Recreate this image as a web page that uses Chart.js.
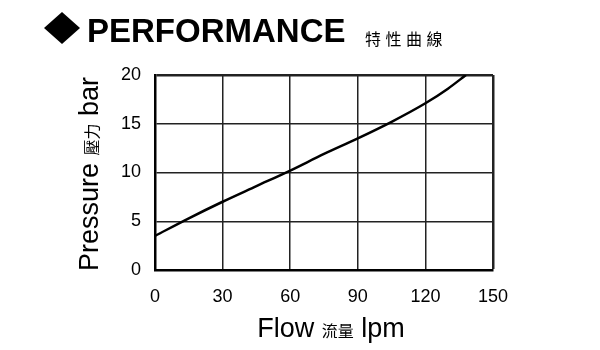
<!DOCTYPE html>
<html>
<head>
<meta charset="utf-8">
<script src="https://cdn.jsdelivr.net/npm/chart.js@4.4.1/dist/chart.umd.min.js"></script>
<style>
    html, body { margin: 0; padding: 0; background: #fff; }
    #wrap { width: 600px; height: 350px; position: relative; }
</style>
</head>
<body>
<div id="wrap"><canvas id="perfChart" width="600" height="350"></canvas></div>
<script>
// 讀圖估計的資料
const flowLpm = [0, 15, 30, 45, 60, 75, 90, 105, 120, 130, 138];
const pressureBar = [3.5, 5.3, 7.0, 8.6, 10.2, 11.9, 13.5, 15.2, 17.1, 18.6, 20];
const xTicks = [0, 30, 60, 90, 120, 150];
const yTicks = [0, 5, 10, 15, 20];

const latin = '"Liberation Sans", Arial, sans-serif';
const cjk = '"Noto Sans CJK TC", sans-serif';

// 畫多字體的一行文字
function drawRuns(ctx, runs, x, y, align) {
    let total = 0;
    runs.forEach(r => { ctx.font = r.font; r.w = ctx.measureText(r.text).width; total += r.w + (r.gap || 0); });
    let cx = align === 'center' ? x - total / 2 : x;
    runs.forEach(r => {
        ctx.font = r.font;
        ctx.fillText(r.text, cx, y);
        cx += r.w + (r.gap || 0);
    });
}

const labelsPlugin = {
    id: 'labels',
    afterDraw(chart) {
        const ctx = chart.ctx;
        ctx.save();
        ctx.fillStyle = '#000';
        ctx.textBaseline = 'alphabetic';
        ctx.textAlign = 'left';

        // 標題：菱形 + PERFORMANCE + 特性曲線
        ctx.beginPath();
        ctx.moveTo(62, 12);
        ctx.lineTo(80, 28);
        ctx.lineTo(62, 44);
        ctx.lineTo(44, 28);
        ctx.closePath();
        ctx.fill();
        ctx.font = 'bold 33px ' + latin;
        ctx.fillText('PERFORMANCE', 87, 42);
        ctx.font = '16px ' + cjk;
        ['特', '性', '曲', '線'].forEach((c, i) => ctx.fillText(c, 365 + i * 20.5, 45));

        // X 軸標題
        drawRuns(ctx, [
            { text: 'Flow ', font: '27px ' + latin },
            { text: '流量', font: '16px ' + cjk },
            { text: ' lpm', font: '27px ' + latin }
        ], 331, 337, 'center');

        // Y 軸標題
        ctx.translate(98, 174);
        ctx.rotate(-Math.PI / 2);
        drawRuns(ctx, [
            { text: 'Pressure ', font: '27px ' + latin },
            { text: '壓力', font: '16px ' + cjk },
            { text: ' bar', font: '27px ' + latin }
        ], 0, 0, 'center');
        ctx.restore();
    }
};

const ctxPerf = document.getElementById('perfChart').getContext('2d');
new Chart(ctxPerf, {
    type: 'line',
    data: {
        datasets: [{
            data: flowLpm.map((f, i) => ({ x: f, y: pressureBar[i] })),
            borderColor: '#000',
            borderWidth: 2.5,
            pointRadius: 0,
            cubicInterpolationMode: 'monotone',
            fill: false
        }]
    },
    options: {
        responsive: false,
        animation: false,
        layout: { padding: { left: 0, top: 75, right: 107, bottom: 0 } },
        plugins: {
            legend: { display: false },
            tooltip: { enabled: false },
            title: { display: false }
        },
        scales: {
            x: {
                type: 'linear',
                min: 0,
                max: 150,
                afterBuildTicks: s => { s.ticks = xTicks.map(v => ({ value: v })); },
                afterFit: s => { s.height = 80; },
                grid: {
                    color: '#222',
                    lineWidth: c => (c.tick && c.tick.value === 150 ? 2.5 : 1.5),
                    drawTicks: false
                },
                border: { color: '#000', width: 2.5 },
                ticks: { color: '#000', font: { family: latin, size: 18 }, padding: 16, maxRotation: 0 }
            },
            y: {
                min: 0,
                max: 20,
                afterBuildTicks: s => { s.ticks = yTicks.map(v => ({ value: v })); },
                afterFit: s => { s.width = 155; },
                grid: {
                    color: '#222',
                    lineWidth: c => (c.tick && c.tick.value === 20 ? 2.5 : 1.5),
                    drawTicks: false
                },
                border: { color: '#000', width: 2.5 },
                ticks: { color: '#000', font: { family: latin, size: 18 }, padding: 14 }
            }
        }
    },
    plugins: [labelsPlugin]
});
</script>
</body>
</html>
